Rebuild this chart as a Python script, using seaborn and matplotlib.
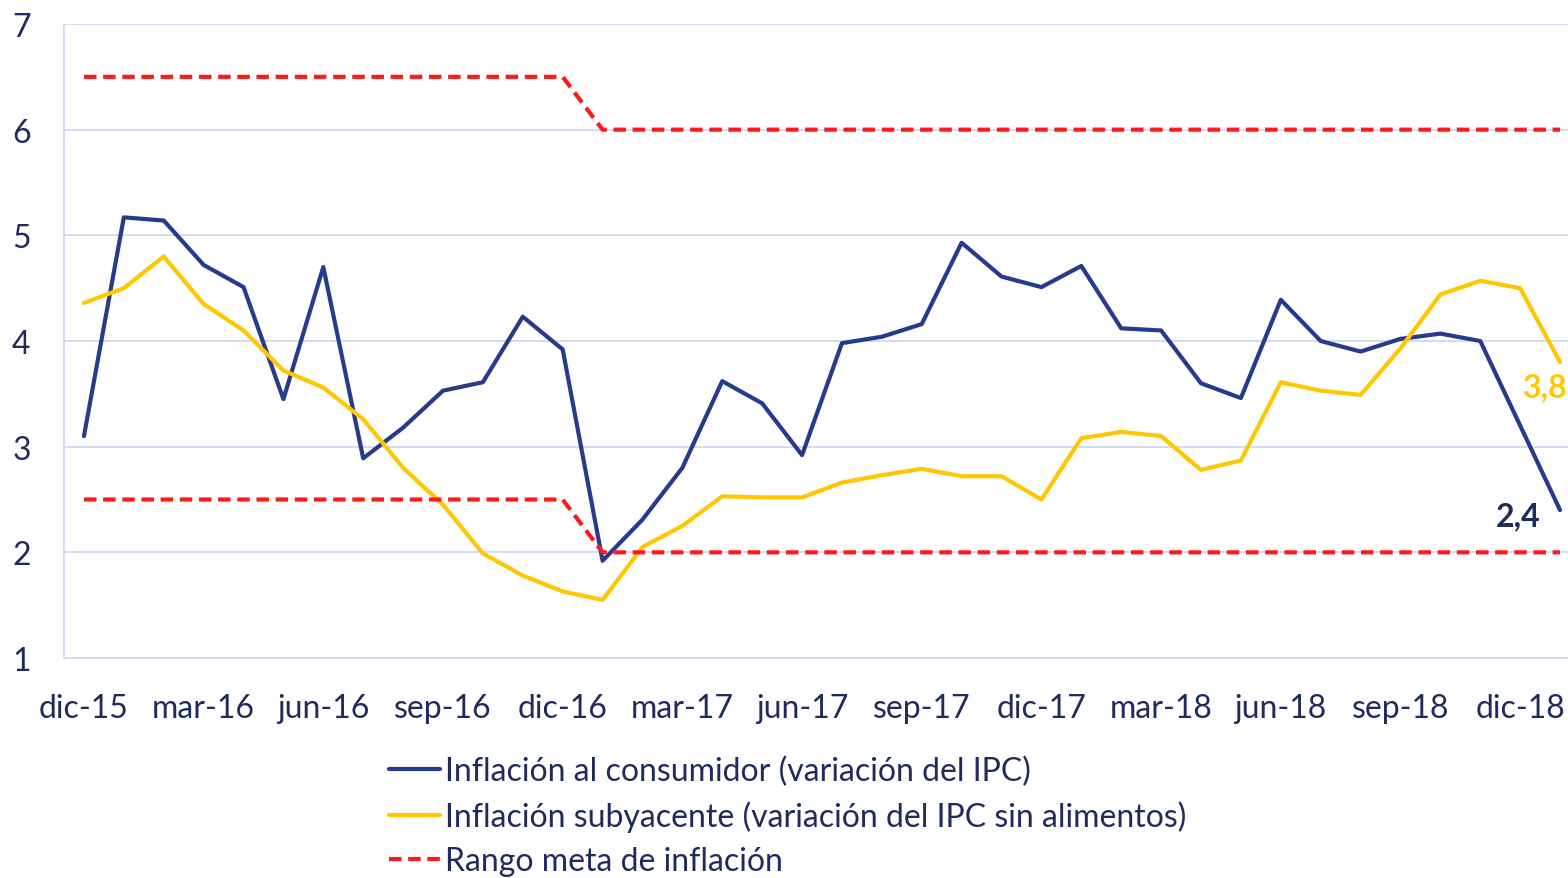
import matplotlib
matplotlib.use("Agg")
import matplotlib.pyplot as plt
import seaborn as sns
import pandas as pd

# dic-15 ... ene-19, mensual
ipc = [3.10, 5.17, 5.14, 4.72, 4.51, 3.45, 4.70, 2.89, 3.18, 3.53, 3.61, 4.23,
       3.92, 1.92, 2.31, 2.80, 3.62, 3.41, 2.92, 3.98, 4.04, 4.16, 4.93, 4.61,
       4.51, 4.71, 4.12, 4.10, 3.60, 3.46, 4.39, 4.00, 3.90, 4.02, 4.07, 4.00,
       3.20, 2.40]
subyacente = [4.36, 4.50, 4.80, 4.35, 4.10, 3.72, 3.56, 3.26, 2.80, 2.45, 1.99, 1.78,
              1.63, 1.55, 2.05, 2.25, 2.53, 2.52, 2.52, 2.66, 2.73, 2.79, 2.72, 2.72,
              2.50, 3.08, 3.14, 3.10, 2.78, 2.87, 3.61, 3.53, 3.49, 3.93, 4.44, 4.57,
              4.50, 3.80]
meta_sup = [6.5] * 13 + [6.0] * 25
meta_inf = [2.5] * 13 + [2.0] * 25
tick_labels = ["dic-15", "mar-16", "jun-16", "sep-16", "dic-16", "mar-17", "jun-17",
               "sep-17", "dic-17", "mar-18", "jun-18", "sep-18", "dic-18"]
labels = ["Inflación al consumidor (variación del IPC)",
          "Inflación subyacente (variación del IPC sin alimentos)",
          "Rango meta de inflación"]

navy = "#263B8C"
gold = "#FFC700"
red = "#FF1A1A"
txt = "#1F2A5E"
grid = "#CDD5F0"
fs = 23

sns.set_style("white")
plt.rcParams["font.family"] = ["Lato", "DejaVu Sans"]

df = pd.DataFrame({"mes": range(len(ipc)), "ipc": ipc, "sub": subyacente,
                   "sup": meta_sup, "inf": meta_inf})

fig = plt.figure(figsize=(15.68, 8.79), dpi=100)
ax = fig.add_axes([64 / 1568, 1 - 659 / 879, (1580 - 64) / 1568, (659 - 25) / 879])

sns.lineplot(data=df, x="mes", y="ipc", color=navy, lw=3, ax=ax, label=labels[0])
sns.lineplot(data=df, x="mes", y="sub", color=gold, lw=3, ax=ax, label=labels[1])
sns.lineplot(data=df, x="mes", y="sup", color=red, lw=3, ax=ax, label=labels[2],
             dashes=False, linestyle=(0, (3, 1.6)))
sns.lineplot(data=df, x="mes", y="inf", color=red, lw=3, ax=ax, label="_nolegend_",
             dashes=False, linestyle=(0, (3, 1.6)))

ax.set_xlim(-0.5, len(ipc) - 0.5)
ax.set_ylim(1, 7)
ax.set_yticks(range(1, 8))
ax.set_xticks(range(0, 37, 3))
ax.set_xticklabels(tick_labels)
ax.set_xlabel("")
ax.set_ylabel("")
ax.tick_params(axis="both", length=0, labelsize=fs, labelcolor=txt)
ax.tick_params(axis="x", pad=25)
ax.tick_params(axis="y", pad=24)
ax.grid(axis="y", color=grid, lw=1.2)
for s in ["top", "right"]:
    ax.spines[s].set_visible(False)
for s in ["left", "bottom"]:
    ax.spines[s].set_color(grid)
    ax.spines[s].set_linewidth(1.2)

ax.annotate("2,4", (len(ipc) - 1, ipc[-1]), xytext=(-46, -4), textcoords="offset points",
            ha="left", va="center", fontsize=fs, fontweight="bold", color=txt)
ax.annotate("3,8", (len(subyacente) - 1, subyacente[-1]), xytext=(-27, -18),
            textcoords="offset points", ha="left", va="center", fontsize=fs,
            fontweight="bold", color=gold)

handles, labs = ax.get_legend_handles_labels()
ax.get_legend().remove()
leg = fig.legend(handles, labs, loc="upper left", bbox_to_anchor=(389 / 1568, 1 - 757 / 879),
                 frameon=False, fontsize=fs, handlelength=1.6, handletextpad=0.16,
                 labelspacing=0.44, borderpad=0, borderaxespad=0)
for t in leg.get_texts():
    t.set_color(txt)

fig.savefig("out.png", dpi=100)
